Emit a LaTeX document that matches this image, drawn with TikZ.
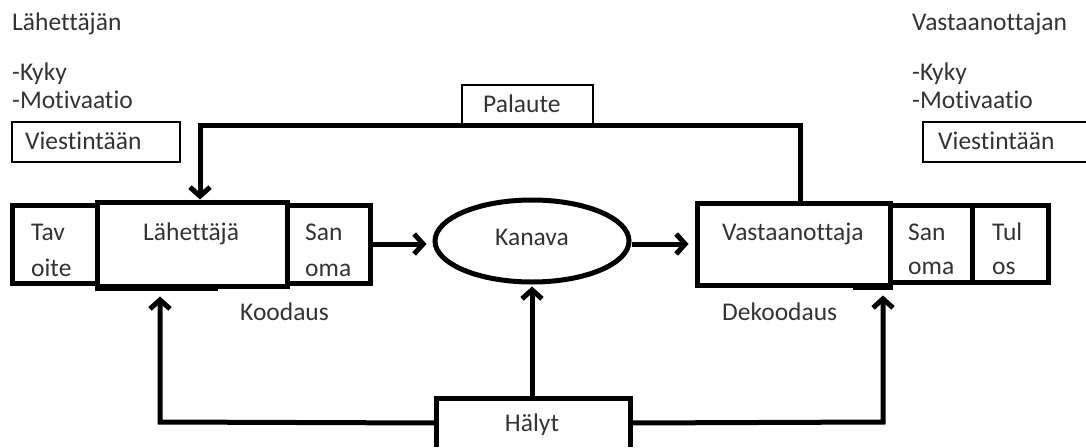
\documentclass[tikz,border=0pt]{standalone}
\usepackage{fontspec}
\setmainfont{Carlito}[Ligatures={NoCommon}]
\usetikzlibrary{arrows.meta,shapes.geometric}
\definecolor{ink}{HTML}{333333}
\begin{document}
\begin{tikzpicture}[x=1pt,y=-1pt,
  txt/.style={anchor=base west,inner sep=0,text=ink,font=\fontsize{25.5}{30}\selectfont},
  ctxt/.style={txt,anchor=base},
  heavy/.style={draw=black,line width=5pt,inner sep=0},
  light/.style={draw=black,line width=1.3pt},
  conn/.style={draw=black,line width=5pt,-{Straight Barb[length=9pt,width=20pt]}},
  wire/.style={draw=black,line width=5pt}]
\useasboundingbox (0,0) rectangle (1086,447);

% sender side texts
\node[txt] (lahn) at (12,30) {Lähettäjän};
\node[txt] (kyky1) at (12,80) {-Kyky};
\node[txt] (mot1) at (12,108) {-Motivaatio};
\node[light,minimum width=168,minimum height=40,inner sep=0] (vies1) at (96,142) {};
\node[txt] (vies1t) at (25,149) {Viestintään};

% receiver side texts
\node[txt] (vasn) at (912,30) {Vastaanottajan};
\node[txt] (kyky2) at (912,80) {-Kyky};
\node[txt] (mot2) at (912,108) {-Motivaatio};
\coordinate (v2a) at (1092,122);
\coordinate (v2b) at (923,142);
\coordinate (v2c) at (1092,162);
\draw[light] (v2a) -- (v2a -| v2b) -- (v2c -| v2b) -- (v2c);
\node[txt] (vies2t) at (938,149) {Viestintään};

% feedback label
\node[light,minimum width=131,minimum height=40,inner sep=0] (pal) at (527.5,105) {};
\node[txt] (palt) at (483,112) {Palaute};

% sender block
\node[heavy,minimum width=85,minimum height=78] (tav) at (54.5,244) {};
\node[heavy,minimum width=190,minimum height=84] (lah) at (192,244) {};
\node[heavy,minimum width=83,minimum height=78] (san1) at (328.5,244) {};
\draw[wire] (lah.south west) ++(0,-0.5) coordinate (lb1) -- ++(123,0) coordinate (lb2);
\node[txt] (tav1) at (31,240) {Tav};
\node[txt] (tav2) at (31,276) {oite};
\node[txt] (laht) at (143,240) {Lähettäjä};
\node[txt] (san1a) at (305,240) {San};
\node[txt] (san1b) at (305,276) {oma};

% channel
\node[heavy,ellipse,minimum width=194,minimum height=82] (kan) at (532,241) {};
\node[ctxt] (kant) at (532,245) {Kanava};

% receiver block
\node[heavy,minimum width=193,minimum height=82] (vas) at (793.5,244) {};
\node[heavy,minimum width=82,minimum height=77] (san2) at (931,243.5) {};
\node[heavy,minimum width=76,minimum height=77] (tul) at (1010,243.5) {};
\draw[wire] (vas.south east) ++(0,-0.5) coordinate (rb1) -- ++(-40,0) coordinate (rb2);
\node[txt] (vast) at (722,240) {Vastaanottaja};
\node[txt] (san2a) at (908,240) {San};
\node[txt] (san2b) at (908,274) {oma};
\node[txt] (tul1) at (992,240) {Tul};
\node[txt] (tul2) at (992,274) {os};

\node[txt] (kood) at (240,320) {Koodaus};
\node[txt] (dekood) at (722,320) {Dekoodaus};

% noise box
\node[minimum width=193,minimum height=48,inner sep=0] (hal) at (533.5,423) {};
\draw[wire] (hal.south west) |- (hal.north east) -- (hal.south east);
\node[ctxt] (halt) at (532,431) {Hälyt};

% message flow
\draw[conn,shorten >=6pt] (san1.east) -- (san1.east -| kan.west);
\draw[conn,shorten >=6pt] (kan.east |- vas.west) -- (vas.west);

% feedback loop
\coordinate (fbR) at (800,125);
\coordinate (fbL) at (200,125);
\draw[conn] (vas.north -| fbR) -- (fbR) -- (fbL) -- (lah.north -| fbL);

% noise arrows
\coordinate (nl) at (160,422);
\coordinate (nr) at (883,422);
\draw[conn,shorten >=8pt] (hal.west) -- (nl) -- (nl |- lah.south);
\draw[conn,shorten >=8pt] (hal.east) -- (nr) -- (nr |- vas.south);
\draw[conn,shorten >=2pt] (hal.north -| kan.south) -- (kan.south);
\end{tikzpicture}
\end{document}
